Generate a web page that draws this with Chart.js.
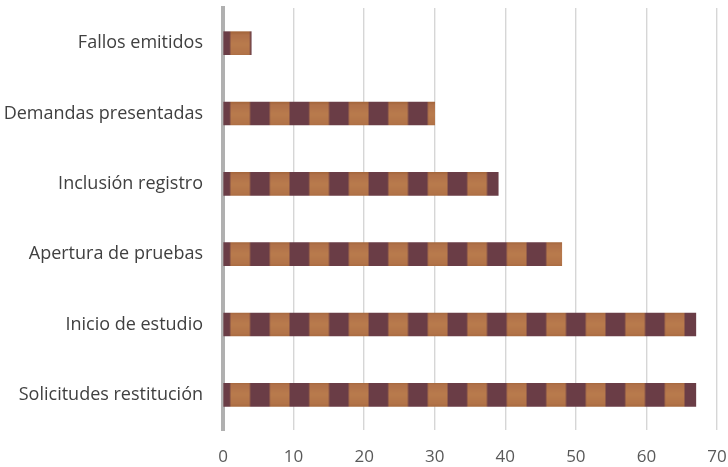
<!DOCTYPE html>
<html>
<head>
<meta charset="utf-8">
<script src="https://cdn.jsdelivr.net/npm/chart.js@4"></script>
<style>
  html, body { margin: 0; padding: 0; background: #fff; }
  canvas { display: block; }
</style>
</head>
<body>
<canvas id="chart" width="728" height="467"></canvas>
<script>
const categories = [
  "Fallos emitidos",
  "Demandas presentadas",
  "Inclusión registro",
  "Apertura de pruebas",
  "Inicio de estudio",
  "Solicitudes restitución",
];
const values = [4, 30, 39, 48, 67, 67];
const xTicks = [0, 10, 20, 30, 40, 50, 60, 70];

const DARK = "#6a3d46";

// striped fill like the Excel pattern: dark / orange blocks, period ~39.5px
function stripes(ctx) {
  const tile = document.createElement("canvas");
  tile.width = 79;
  tile.height = 70;
  const t = tile.getContext("2d");
  const g = t.createLinearGradient(0, 32, 0, 56);
  g.addColorStop(0, "#a4663b");
  g.addColorStop(0.12, "#b0714a");
  g.addColorStop(0.5, "#b97b4d");
  g.addColorStop(0.9, "#b27348");
  g.addColorStop(1, "#a96c42");
  t.fillStyle = g;
  t.fillRect(0, 0, 79, 70);
  t.fillStyle = DARK;
  t.fillRect(0, 0, 19.75, 70);
  t.fillRect(39.5, 0, 19.75, 70);
  const p = ctx.createPattern(tile, "repeat");
  p.setTransform(new DOMMatrix().translate(52.5, 0));
  return p;
}

// drop the auto padding chart.js adds for edge tick labels
function noPad(s) {
  s.paddingTop = 0;
  s.paddingBottom = 0;
  s.paddingLeft = 0;
  s.paddingRight = 0;
}

const canvas = document.getElementById("chart");
const ctx = canvas.getContext("2d");

new Chart(ctx, {
  type: "bar",
  data: {
    labels: categories,
    datasets: [{
      data: values,
      backgroundColor: stripes(ctx),
      borderWidth: 0,
      barThickness: 23,
    }],
  },
  options: {
    indexAxis: "y",
    responsive: false,
    animation: false,
    layout: { padding: { top: 8, right: 11, left: 0, bottom: 0 } },
    plugins: { legend: { display: false }, tooltip: { enabled: false } },
    scales: {
      x: {
        min: 0,
        max: 70,
        afterBuildTicks: (s) => { s.ticks = xTicks.map((v) => ({ value: v })); },
        afterFit: (s) => { noPad(s); s.height = 37; },
        grid: { color: "#d6d6d6", lineWidth: 1.4, drawTicks: false },
        border: { display: false },
        ticks: {
          color: "#595959",
          padding: 17,
          font: { family: "Open Sans", size: 17 },
        },
      },
      y: {
        afterFit: (s) => { noPad(s); s.width = 223; },
        grid: { display: false, drawTicks: false },
        border: { display: true, color: "#b0b0b0", width: 4 },
        ticks: {
          color: "#404040",
          padding: 20,
          font: { family: "Open Sans", size: 18 },
        },
      },
    },
  },
});
</script>
</body>
</html>
